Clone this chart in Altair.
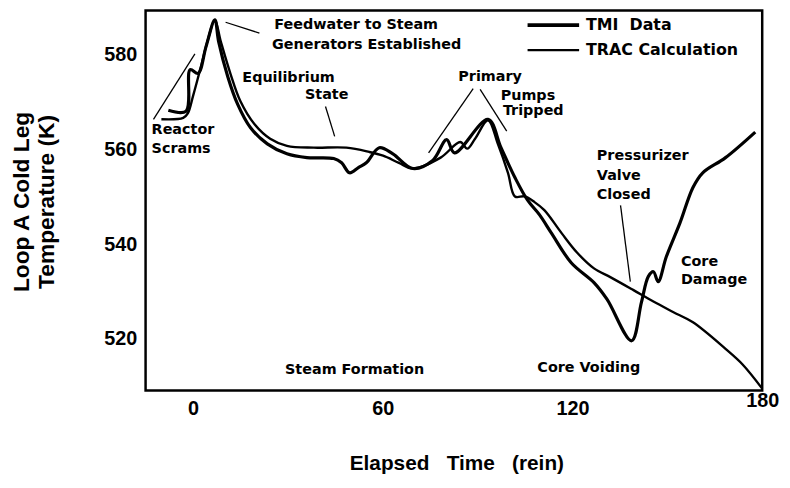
import altair as alt
import pandas as pd

# ---- data ----
tmi_t = [-7.8, -2.2, -0.9, 1.6, 4.1, 6.9, 8.1, 11.0, 14.1, 18.2, 23.5, 29.7, 36.0, 44.5, 47.0,
         49.5, 52.3, 54.8, 58.9, 63.2, 69.5, 75.8, 80.2, 82.7, 93.3, 97.4, 101.8, 105.8, 109.6,
         113.3, 119.6, 126.8, 130.9, 138.7, 141.8, 144.0, 145.6, 147.1, 149.7, 154.0, 158.1,
         161.2, 168.4, 177.8]
tmi_k = [568.3, 568.1, 576.9, 576.1, 581.7, 587.4, 582.8, 575.4, 569.6, 564.6, 561.2, 559.1,
         558.3, 558.1, 557.2, 555.1, 556.2, 557.2, 560.4, 559.1, 556.0, 557.7, 562.1, 559.3,
         566.4, 560.4, 554.1, 549.3, 546.2, 542.4, 536.1, 531.9, 528.4, 519.6, 527.7, 533.2,
         534.2, 532.1, 537.4, 544.5, 552.0, 555.1, 558.3, 563.7]

trac_t = [-10.0, -3.1, -1.6, 0.0, 2.5, 4.7, 6.9, 8.8, 11.9, 15.0, 19.4, 24.4, 29.7, 38.2, 48.5,
          55.7, 60.1, 65.1, 69.5, 78.3, 84.5, 86.7, 89.2, 93.3, 96.4, 99.6, 101.8, 104.9, 108.0,
          111.1, 116.5, 121.5, 126.8, 132.1, 139.3, 145.6, 151.8, 158.1, 168.4, 173.8, 180.0]
trac_k = [566.4, 566.7, 567.7, 571.3, 577.5, 583.2, 587.4, 582.8, 575.9, 570.2, 565.4, 562.3,
          560.8, 560.4, 560.4, 559.5, 558.7, 557.2, 556.0, 558.3, 561.6, 560.2, 562.3, 566.2,
          561.2, 555.1, 550.1, 550.1, 548.9, 547.2, 542.4, 538.2, 534.9, 533.0, 530.3, 527.9,
          525.7, 523.5, 517.9, 514.6, 509.5]

ann_text = ["Feedwater to Steam", "Generators Established", "Equilibrium", "State",
            "Reactor", "Scrams", "Primary", "Pumps", "Tripped", "Pressurizer", "Valve",
            "Closed", "Core", "Damage", "Steam Formation", "Core Voiding"]
ann_t = [25.7, 25.0, 15.6, 35.4, -13.1, -13.1, 83.9, 97.3, 98.0, 127.7, 127.7, 127.7,
         154.3, 154.3, 29.1, 108.9]
ann_k = [586.3, 582.1, 575.2, 571.6, 564.1, 560.1, 575.4, 571.4, 568.1, 558.6, 554.5,
         550.3, 536.3, 532.5, 513.5, 513.9]

lead_t1 = [10.3, 41.9, -12.5, 74.5, 90.8, 135.2]
lead_k1 = [586.9, 569.1, 566.4, 559.3, 572.7, 548.2]
lead_t2 = [21.0, 44.8, 0.6, 88.6, 99.2, 138.3]
lead_k2 = [584.6, 562.8, 580.2, 572.9, 563.9, 532.1]

legend_labels = ["TMI\u00a0\u00a0Data", "TRAC Calculation"]
legend_k = [586.3, 581.0]
legend_t1 = [105.8, 105.8]
legend_t2 = [122.1, 122.1]
legend_text_t = [124.3, 124.3]
legend_width = [3.6, 2.4]

x_ticks = [0, 60, 120, 180]
y_ticks = [520, 540, 560, 580]

# ---- tables ----
tmi = pd.DataFrame({"t": tmi_t, "k": tmi_k, "i": range(len(tmi_t))})
trac = pd.DataFrame({"t": trac_t, "k": trac_k, "i": range(len(trac_t))})
ann = pd.DataFrame({"t": ann_t, "k": ann_k, "label": ann_text})
lead = pd.DataFrame({"t": lead_t1, "k": lead_k1, "t2": lead_t2, "k2": lead_k2})
leg = pd.DataFrame({"t": legend_t1, "t2": legend_t2, "k": legend_k, "tt": legend_text_t,
                    "label": legend_labels, "w": legend_width})

xs = alt.Scale(domain=[-15, 180], nice=False, zero=False)
ys = alt.Scale(domain=[509.1, 589.4], nice=False, zero=False)

x_axis = alt.Axis(values=x_ticks, grid=False, ticks=False, domain=False, labelFlush=False,
                  labelFont="Liberation Sans", labelFontSize=20, labelFontWeight="bold",
                  labelColor="black",
                  labelPadding={"condition": {"test": "datum.value === 180", "value": 0},
                                "value": 8},
                  title="Elapsed\u00a0\u00a0\u00a0Time\u00a0\u00a0\u00a0(rein)",
                  titleFont="Liberation Sans", titleFontSize=21, titleFontWeight="bold",
                  titleColor="black", titleX=314, titleY=74, titleBaseline="middle",
                  titleAlign="center")
y_axis = alt.Axis(values=y_ticks, grid=False, ticks=False, domain=False,
                  labelFont="Liberation Sans", labelFontSize=20, labelFontWeight="bold",
                  labelColor="black", labelPadding=9,
                  title=["Loop A Cold Leg", "Temperature (K)"],
                  titleFont="Liberation Sans", titleFontSize=23, titleFontWeight="bold",
                  titleColor="black", titleAngle=270, titleX=-125, titleY=193,
                  titleBaseline="middle", titleAlign="center", titleLineHeight=25)

base_tmi = alt.Chart(tmi).mark_line(color="black", strokeWidth=3.2, strokeJoin="round",
                                    interpolate="catmull-rom").encode(
    x=alt.X("t:Q", scale=xs, axis=x_axis),
    y=alt.Y("k:Q", scale=ys, axis=y_axis),
    order="i:Q",
)
line_trac = alt.Chart(trac).mark_line(color="black", strokeWidth=2.4, strokeJoin="round",
                                      interpolate="catmull-rom").encode(
    x=alt.X("t:Q", scale=xs),
    y=alt.Y("k:Q", scale=ys),
    order="i:Q",
)
texts = alt.Chart(ann).mark_text(align="left", baseline="middle", font="DejaVu Sans",
                                 fontSize=14.5, fontWeight="bold", color="black").encode(
    x=alt.X("t:Q", scale=xs), y=alt.Y("k:Q", scale=ys), text="label:N")
leaders = alt.Chart(lead).mark_rule(color="black", strokeWidth=1.3).encode(
    x=alt.X("t:Q", scale=xs), y=alt.Y("k:Q", scale=ys), x2="t2:Q", y2="k2:Q")
leg_lines = alt.Chart(leg).mark_rule(color="black").encode(
    x=alt.X("t:Q", scale=xs), x2="t2:Q", y=alt.Y("k:Q", scale=ys),
    strokeWidth=alt.StrokeWidth("w:Q", scale=None))
leg_text = alt.Chart(leg).mark_text(align="left", baseline="middle", font="DejaVu Sans",
                                    fontSize=16, fontWeight="bold", color="black").encode(
    x=alt.X("tt:Q", scale=xs), y=alt.Y("k:Q", scale=ys), text="label:N")

chart = alt.layer(base_tmi, line_trac, leaders, texts, leg_lines, leg_text).properties(
    width=623, height=384,
    autosize=alt.AutoSizeParams(type="none"),
    padding={"left": 139, "top": 0, "right": 20, "bottom": 90},
    background="white",
).configure_view(stroke="black", strokeWidth=2.5)

chart.save("out.html", embed_options={"renderer": "svg", "actions": False})
